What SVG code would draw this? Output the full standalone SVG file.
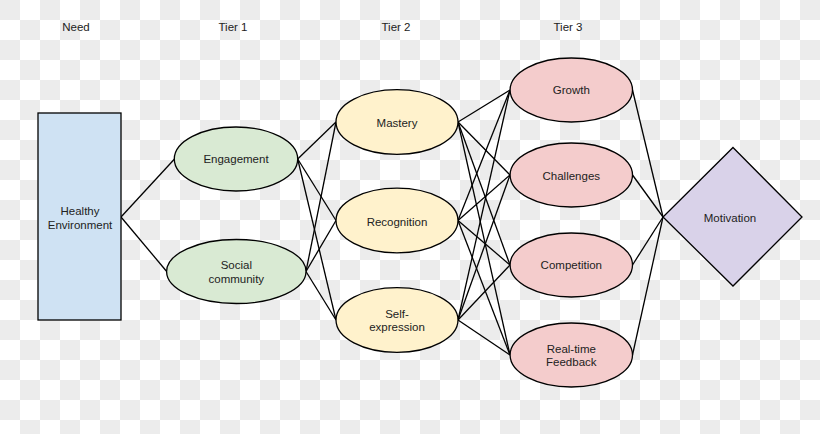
<svg xmlns="http://www.w3.org/2000/svg" width="820" height="434" viewBox="0 0 820 434">
<style>
text{font-family:"Liberation Sans",Arial,sans-serif;font-size:11.5px;fill:#222;text-anchor:middle}
.n{stroke:#000;stroke-width:1.3}
.e1{fill:#d9ead3}.e2{fill:#fff2cc}.e3{fill:#f4cccc}
#connectors line{stroke:#000;stroke-width:1.3}
</style>
<defs>
<pattern id="chk" width="40" height="40" patternUnits="userSpaceOnUse">
<rect width="40" height="40" fill="#ffffff"/>
<rect width="20" height="20" fill="#ececec"/>
<rect x="20" y="20" width="20" height="20" fill="#ececec"/>
</pattern>
</defs>
<rect width="820" height="434" fill="url(#chk)"/>
<g id="headers">
<text x="76" y="31">Need</text>
<text x="233" y="31">Tier 1</text>
<text x="396" y="31">Tier 2</text>
<text x="568" y="31">Tier 3</text>
</g>
<g id="connectors">
<line x1="121" y1="217" x2="174.5" y2="159"/>
<line x1="121" y1="217" x2="166.7" y2="271.5"/>
<line x1="297.7" y1="159" x2="336" y2="122"/>
<line x1="297.7" y1="159" x2="336" y2="220.5"/>
<line x1="297.7" y1="159" x2="336" y2="320"/>
<line x1="306" y1="271.5" x2="336" y2="122"/>
<line x1="306" y1="271.5" x2="336" y2="220.5"/>
<line x1="306" y1="271.5" x2="336" y2="320"/>
<line x1="458" y1="122" x2="510" y2="90"/>
<line x1="458" y1="122" x2="510" y2="175"/>
<line x1="458" y1="122" x2="510" y2="265"/>
<line x1="458" y1="122" x2="510" y2="355"/>
<line x1="458" y1="220.5" x2="510" y2="90"/>
<line x1="458" y1="220.5" x2="510" y2="175"/>
<line x1="458" y1="220.5" x2="510" y2="265"/>
<line x1="458" y1="220.5" x2="510" y2="355"/>
<line x1="458" y1="320" x2="510" y2="90"/>
<line x1="458" y1="320" x2="510" y2="175"/>
<line x1="458" y1="320" x2="510" y2="265"/>
<line x1="458" y1="320" x2="510" y2="355"/>
<line x1="632.5" y1="90" x2="663" y2="217"/>
<line x1="632.5" y1="175" x2="663" y2="217"/>
<line x1="632.5" y1="265" x2="663" y2="217"/>
<line x1="632.5" y1="355" x2="663" y2="217"/>
</g>
<g id="healthy-environment">
<rect class="n" x="38" y="113" width="83" height="207" fill="#cfe2f3"/>
<text x="80" y="215">Healthy</text>
<text x="80" y="228.5">Environment</text>
</g>
<g id="engagement">
<ellipse class="n e1" cx="236" cy="159" rx="61.7" ry="32"/>
<text x="236" y="163">Engagement</text>
</g>
<g id="social-community">
<ellipse class="n e1" cx="236.3" cy="271.5" rx="69.7" ry="32"/>
<text x="236.3" y="269">Social</text>
<text x="236.3" y="282.5">community</text>
</g>
<g id="mastery">
<ellipse class="n e2" cx="397" cy="122" rx="61" ry="32.3"/>
<text x="397" y="126.5">Mastery</text>
</g>
<g id="recognition">
<ellipse class="n e2" cx="397" cy="220.5" rx="61" ry="32.3"/>
<text x="397" y="225.5">Recognition</text>
</g>
<g id="self-expression">
<ellipse class="n e2" cx="397" cy="320" rx="61" ry="32.3"/>
<text x="397" y="317.5">Self-</text>
<text x="397" y="331">expression</text>
</g>
<g id="growth">
<ellipse class="n e3" cx="571.3" cy="90" rx="61.2" ry="32"/>
<text x="571.3" y="94">Growth</text>
</g>
<g id="challenges">
<ellipse class="n e3" cx="571.3" cy="175" rx="61.2" ry="32"/>
<text x="571.3" y="179.5">Challenges</text>
</g>
<g id="competition">
<ellipse class="n e3" cx="571.3" cy="265" rx="61.2" ry="32"/>
<text x="571.3" y="269">Competition</text>
</g>
<g id="real-time-feedback">
<ellipse class="n e3" cx="571.3" cy="355" rx="61.2" ry="32"/>
<text x="571.3" y="352.5">Real-time</text>
<text x="571.3" y="366">Feedback</text>
</g>
<g id="motivation">
<polygon class="n" points="733,147.5 802,217 733,286 663,217" fill="#d9d2e9"/>
<text x="730" y="221.5">Motivation</text>
</g>
</svg>
